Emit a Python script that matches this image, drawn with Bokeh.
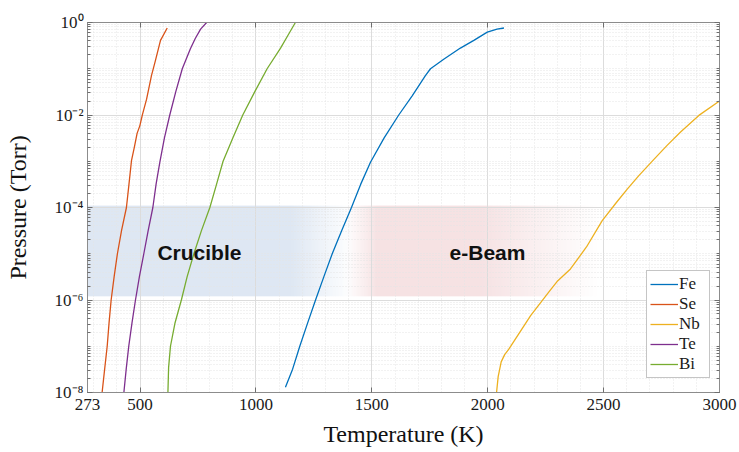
import numpy as np
from bokeh.plotting import figure
from bokeh.models import FixedTicker, LinearAxis, LogAxis, CustomJSTickFormatter
from bokeh.core.properties import value
from bokeh.embed import file_html
from bokeh.resources import INLINE

# ---------------- data ----------------
elements = ["Fe", "Se", "Nb", "Te", "Bi"]
colors = ["#0072BD", "#D95319", "#EDB120", "#7E2F8E", "#77AC30"]

fe_T = [1127, 1158, 1189, 1223, 1257, 1293, 1329, 1370, 1412, 1452, 1494, 1553, 1616,
        1674, 1731, 1753, 1810, 1882, 1940, 1998, 2040, 2070]
fe_P = [1.3e-8, 3.2e-8, 1e-7, 3.2e-7, 1e-6, 3.2e-6, 1e-5, 3.2e-5, 1e-4, 3.2e-4, 9.5e-4,
        3.2e-3, 1.0e-2, 2.6e-2, 7.1e-2, 0.1, 0.16, 0.28, 0.41, 0.62, 0.72, 0.76]

se_T = [336, 347, 358, 366, 375, 388, 402, 420, 441, 452, 463, 475, 487, 499, 510,
        528, 549, 566, 588, 617]
se_P = [1e-8, 3.2e-8, 1e-7, 3.2e-7, 1e-6, 3.2e-6, 1e-5, 3.2e-5, 1e-4, 3.2e-4, 1.05e-3,
        2.0e-3, 4.0e-3, 5.9e-3, 1.02e-2, 2.2e-2, 7.1e-2, 0.15, 0.41, 0.76]

nb_T = [2038, 2045, 2058, 2073, 2091, 2138, 2185, 2264, 2299, 2357, 2426, 2494, 2556,
        2602, 2652, 2717, 2774, 2832, 2911, 3000]
nb_P = [1e-8, 2.2e-8, 4.6e-8, 6.6e-8, 8.7e-8, 2.0e-7, 4.6e-7, 1.5e-6, 2.5e-6, 4.7e-6,
        1.4e-5, 5.2e-5, 1.3e-4, 2.5e-4, 4.9e-4, 1.1e-3, 2.2e-3, 4.3e-3, 9.8e-3, 2.0e-2]

te_T = [430, 440, 451, 465, 480, 497, 516, 535, 555, 569, 585, 605, 628, 654, 682,
        717, 738, 761, 787]
te_P = [1e-8, 3.2e-8, 1e-7, 3.2e-7, 1e-6, 3.2e-6, 1e-5, 3.2e-5, 1e-4, 3.2e-4, 9.5e-4,
        3.2e-3, 1.0e-2, 3.2e-2, 0.1, 0.27, 0.45, 0.72, 1.0]

bi_T = [620, 623, 631, 650, 678, 703, 732, 765, 801, 830, 858, 900, 943, 995, 1048,
        1106, 1140, 1170]
bi_P = [1e-8, 3.5e-8, 1e-7, 3.1e-7, 1e-6, 3.2e-6, 1e-5, 3.2e-5, 1e-4, 3.2e-4, 1e-3,
        3.2e-3, 1.0e-2, 3.2e-2, 0.1, 0.28, 0.55, 1.0]

series_T = [fe_T, se_T, nb_T, te_T, bi_T]
series_P = [fe_P, se_P, nb_P, te_P, bi_P]

x_ticks = [273, 500, 1000, 1500, 2000, 2500, 3000]
x_minor = [t for t in range(300, 3000, 100) if t % 500 != 0]
y_ticks = [1e-8, 1e-6, 1e-4, 1e-2, 1.0]
y_tick_labels = ["10\u207b\u2078", "10\u207b\u2076", "10\u207b\u2074", "10\u207b\u00b2", "10\u2070"]
y_minor = [m * 10.0 ** k for k in range(-8, 0) for m in range(1, 10)]

# shaded regions (temperature K, pressure Torr)
crucible_T = [273, 1150, 1420]          # start, solid end, faded out
ebeam_T = [1386, 1524, 1969, 2487]      # fade-in start, solid start, solid end, faded out
band_P = [1.2e-6, 1.1e-4]
crucible_label = ("Crucible", 756, 1.05e-5)
ebeam_label = ("e-Beam", 1999, 1.05e-5)

# ---------------- figure ----------------
SERIF = "Liberation Serif"
p = figure(width=738, height=452, x_range=(273, 3000), y_range=(1e-8, 1.0),
           y_axis_type="log", output_backend="svg", toolbar_location=None,
           min_border_left=87, min_border_right=19, min_border_top=22,
           min_border_bottom=60)
p.outline_line_color = "#8c8c8c"
p.background_fill_color = "white"
p.border_fill_color = "white"

xt = FixedTicker(ticks=x_ticks, minor_ticks=x_minor)
yt = FixedTicker(ticks=y_ticks, minor_ticks=y_minor)

p.xaxis.ticker = xt
p.yaxis.ticker = yt
p.yaxis.major_label_overrides = {t: l for t, l in zip(y_ticks, y_tick_labels)}

for ax in (p.xaxis[0], p.yaxis[0]):
    ax.axis_line_color = "#8c8c8c"
    ax.major_tick_line_color = "#6e6e6e"
    ax.minor_tick_line_color = "#6e6e6e"
    ax.major_tick_in = 5
    ax.major_tick_out = 0
    ax.minor_tick_in = 3
    ax.minor_tick_out = 0
    ax.major_label_text_font = SERIF
    ax.major_label_text_font_size = "17px"
    ax.major_label_text_color = "#1a1a1a"
    ax.axis_label_text_font = SERIF
    ax.axis_label_text_font_size = "24px"
    ax.axis_label_text_font_style = "normal"
    ax.axis_label_text_color = "#111111"

p.xaxis.minor_tick_line_color = None
p.xaxis.major_label_standoff = 6
p.xaxis.axis_label_standoff = 8
p.xaxis.axis_label = "Temperature (K)"
p.yaxis.major_label_standoff = 4
p.yaxis.axis_label_standoff = 21
p.yaxis.axis_label = "Pressure (Torr)"

# box axes (top / right), ticks only, empty labels
blank = CustomJSTickFormatter(code="return ''")
top = LinearAxis(ticker=xt, formatter=blank, major_label_text_font_size="6px",
                 major_label_text_color=None, axis_line_color="#8c8c8c",
                 major_tick_line_color="#6e6e6e", minor_tick_line_color=None,
                 major_tick_in=5, major_tick_out=0, major_label_standoff=0)
right = LogAxis(ticker=yt, formatter=blank, major_label_text_font_size="6px",
                major_label_text_color=None, axis_line_color="#8c8c8c",
                major_tick_line_color="#6e6e6e", minor_tick_line_color="#6e6e6e",
                major_tick_in=5, major_tick_out=0, minor_tick_in=3, minor_tick_out=0,
                major_label_standoff=0)
p.add_layout(top, "above")
p.add_layout(right, "right")

# grids
for g in (p.xgrid[0], p.ygrid[0]):
    g.grid_line_color = "#dcdcdc"
    g.grid_line_width = 1
    g.minor_grid_line_color = "#e4e4e4"
    g.minor_grid_line_dash = "1 2"
p.xgrid.ticker = xt
p.ygrid.ticker = yt

# ---------------- shaded bands (gradient image) ----------------
ncol = 1400
cols_T = np.linspace(x_ticks[0], x_ticks[-1], ncol)
def ramp(t, a, b):
    return np.clip((t - a) / (b - a), 0, 1)
a_blue = np.where(cols_T <= crucible_T[1], 1.0, 1.0 - ramp(cols_T, crucible_T[1], crucible_T[2]))
a_red = ramp(cols_T, ebeam_T[0], ebeam_T[1]) * (1.0 - ramp(cols_T, ebeam_T[2], ebeam_T[3]))
blue = np.array([176, 198, 226], dtype=float)
red = np.array([228, 168, 172], dtype=float)
ab = 0.42 * a_blue
ar = 0.34 * a_red
alpha = 1 - (1 - ab) * (1 - ar)
rgb = (blue[None, :] * ab[:, None] + red[None, :] * ar[:, None]) / np.maximum(ab + ar, 1e-9)[:, None]
img = np.zeros((2, ncol), dtype=np.uint32)
view = img.view(dtype=np.uint8).reshape((2, ncol, 4))
for r in range(2):
    view[r, :, 0] = rgb[:, 0].astype(np.uint8)
    view[r, :, 1] = rgb[:, 1].astype(np.uint8)
    view[r, :, 2] = rgb[:, 2].astype(np.uint8)
    view[r, :, 3] = (alpha * 255).astype(np.uint8)
p.image_rgba(image=[img], x=x_ticks[0], y=band_P[0], dw=x_ticks[-1] - x_ticks[0],
             dh=band_P[1] - band_P[0], level="underlay")

# ---------------- lines ----------------
for name, c, T, P in zip(elements, colors, series_T, series_P):
    p.line(T, P, line_color=c, line_width=1.3, legend_label=name)

for txt, tx, ty in (crucible_label, ebeam_label):
    p.text(x=[tx], y=[ty], text=[txt], text_font=value("Liberation Sans"),
           text_font_style="bold", text_font_size="21px", text_align="center",
           text_baseline="middle", text_color="#111111")

# ---------------- legend ----------------
lg = p.legend[0]
lg.location = (559, 14)
lg.label_text_font = SERIF
lg.label_text_font_size = "17px"
lg.label_text_color = "#1a1a1a"
lg.glyph_width = 28
lg.glyph_height = 18
lg.label_height = 18
lg.label_width = 27
lg.label_standoff = 1
lg.spacing = 0
lg.padding = 3
lg.margin = 0
lg.border_line_color = "#8c8c8c"
lg.background_fill_alpha = 1.0

open("out.html", "w").write(file_html(p, INLINE))
